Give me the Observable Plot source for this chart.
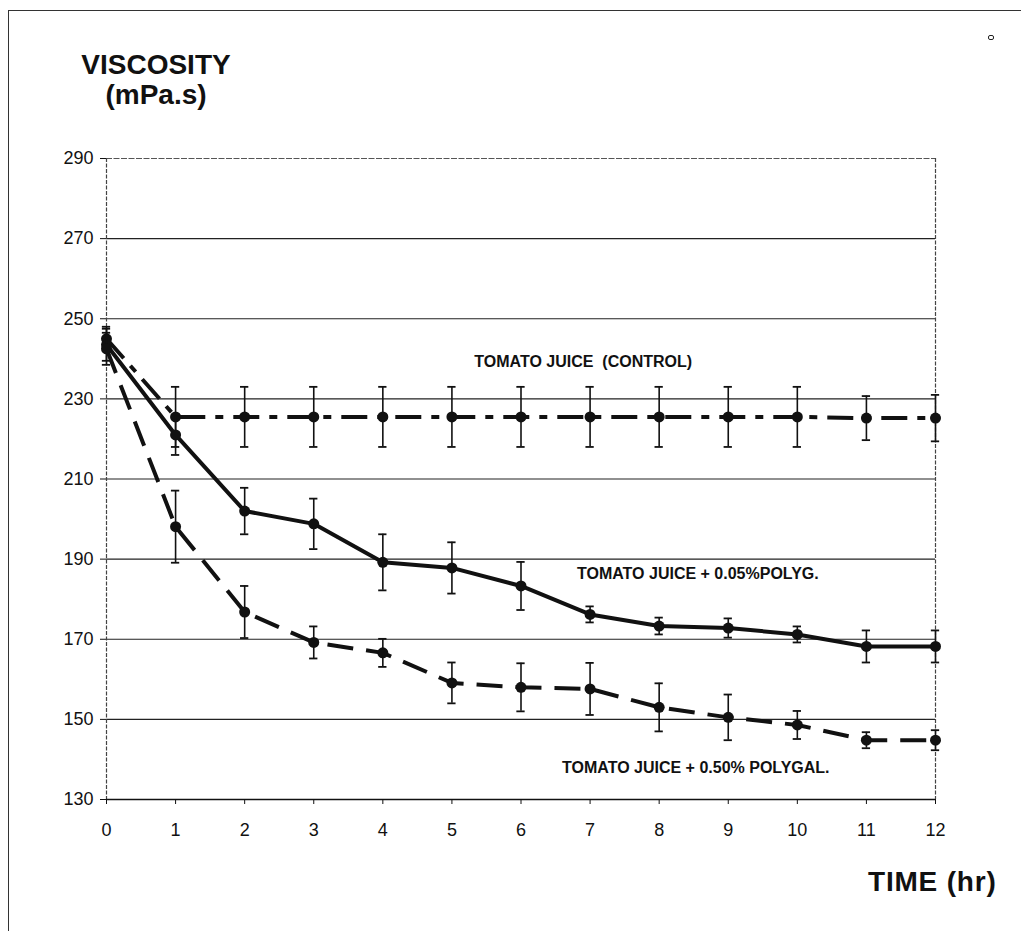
<!DOCTYPE html>
<html>
<head>
<meta charset="utf-8">
<script src="https://cdn.jsdelivr.net/npm/d3@7"></script>
<script src="https://cdn.jsdelivr.net/npm/@observablehq/plot@0.6"></script>
<style>
  html, body { margin: 0; padding: 0; background: #fff; }
  body { width: 1021px; height: 931px; position: relative; overflow: hidden;
         font-family: "Liberation Sans", Arial, Helvetica, sans-serif; }
  #frame { position: absolute; left: 8px; top: 10px; right: -4px; bottom: -4px;
           border-top: 1.5px solid #333; border-left: 1.5px solid #333; }
  #chart { position: absolute; left: 0; top: 0; }
  .axis-title { position: absolute; font-weight: bold; font-size: 28px; line-height: 28px;
                color: #111; white-space: nowrap; }
  #ytitle1, #ytitle2 { left: 56px; width: 200px; text-align: center; }
  #ytitle1 { top: 51px; }
  #ytitle2 { top: 81px; }
  #xtitle { left: 868px; top: 868px; letter-spacing: 0.8px; }
  #speck { position: absolute; left: 988px; top: 35px; width: 4px; height: 3px;
           border: 1px solid #222; border-radius: 2px; }
</style>
</head>
<body>
<div id="frame"></div>
<div id="chart"></div>
<div class="axis-title" id="ytitle1">VISCOSITY</div>
<div class="axis-title" id="ytitle2">(mPa.s)</div>
<div class="axis-title" id="xtitle">TIME (hr)</div>
<div id="speck"></div>
<script>
// Sampling times (hours)
const hours = [0, 1, 2, 3, 4, 5, 6, 7, 8, 9, 10, 11, 12];

// Viscosity (mPa.s) and error half-widths for each treatment
const controlMean = [245, 225.5, 225.5, 225.5, 225.5, 225.5, 225.5, 225.5, 225.5, 225.5, 225.5, 225.2, 225.2];
const controlErr  = [3, 7.5, 7.5, 7.5, 7.5, 7.5, 7.5, 7.5, 7.5, 7.5, 7.5, 5.5, 5.8];

const polyg005Mean = [243.5, 221, 202, 198.8, 189.2, 187.8, 183.3, 176.2, 173.3, 172.8, 171.2, 168.2, 168.2];
const polyg005Err  = [4, 5, 5.8, 6.3, 7, 6.4, 6, 2, 2.1, 2.4, 2, 4, 4];

const polyg050Mean = [242.5, 198.1, 176.8, 169.2, 166.6, 159.1, 158, 157.6, 153, 150.5, 148.6, 144.8, 144.8];
const polyg050Err  = [4, 9, 6.5, 4, 3.5, 5.1, 6, 6.5, 6, 5.7, 3.5, 2, 2.5];

// Axis ticks
const xTicks = hours;
const yTicks = [130, 150, 170, 190, 210, 230, 250, 270, 290];
const gridTicks = [150, 170, 190, 210, 230, 250, 270];

// Series labels, placed in data coordinates
const labelText = ["TOMATO JUICE\u00A0 (CONTROL)", "TOMATO JUICE + 0.05%POLYG.", "TOMATO JUICE + 0.50% POLYGAL."];
const labelX = [6.9, 8.56, 8.53];
const labelY = [239.3, 186.3, 138];

const toRows = (means, errs) => hours.map((t, i) => ({t, v: means[i], lo: means[i] - errs[i], hi: means[i] + errs[i]}));
const control = toRows(controlMean, controlErr);
const low = toRows(polyg005Mean, polyg005Err);
const high = toRows(polyg050Mean, polyg050Err);
const labels = labelText.map((text, i) => ({text, x: labelX[i], y: labelY[i]}));

const capHalf = 0.06; // half-width of error-bar caps, in hours

function errorBars(rows) {
  return [
    Plot.ruleX(rows, {x: "t", y1: "lo", y2: "hi", stroke: "#111", strokeWidth: 1.6}),
    Plot.ruleY(rows, {y: "hi", x1: d => d.t - capHalf, x2: d => d.t + capHalf, stroke: "#111", strokeWidth: 1.8}),
    Plot.ruleY(rows, {y: "lo", x1: d => d.t - capHalf, x2: d => d.t + capHalf, stroke: "#111", strokeWidth: 1.8})
  ];
}

function series(rows, dash) {
  return [
    ...errorBars(rows),
    Plot.line(rows, {x: "t", y: "v", stroke: "#111", strokeWidth: 4, strokeDasharray: dash, strokeLinecap: "butt"}),
    Plot.dot(rows, {x: "t", y: "v", r: 5.5, fill: "#111", stroke: "none"})
  ];
}

const chart = Plot.plot({
  width: 1021,
  height: 931,
  marginLeft: 106,
  marginRight: 86,
  marginTop: 158,
  marginBottom: 132,
  style: {fontFamily: "'Liberation Sans', Arial, Helvetica, sans-serif", fontSize: "18px", color: "#111", background: "transparent"},
  x: {domain: [0, 12]},
  y: {domain: [130, 290]},
  marks: [
    // horizontal grid
    Plot.ruleY(gridTicks, {stroke: "#222", strokeWidth: 1.2}),
    Plot.ruleY([290], {stroke: "#555", strokeWidth: 1, strokeDasharray: "6,1.5"}),
    // plot-area sides
    Plot.ruleX([0, 12], {stroke: "#444", strokeWidth: 1.2, strokeDasharray: "4,1.5"}),
    Plot.ruleY([130], {stroke: "#111", strokeWidth: 1.6}),
    Plot.axisY({ticks: yTicks, tickSize: 6, tickPadding: 7, label: null, fontSize: 18}),
    Plot.axisX({ticks: xTicks, tickSize: 5, tickPadding: 19, label: null, fontSize: 18, tickFormat: d => String(d)}),
    ...series(control, "26,10,8,10"),
    ...series(low, null),
    ...series(high, "26,13"),
    Plot.text(labels, {x: "x", y: "y", text: "text", fontSize: 16, fontWeight: "bold", fill: "#111"})
  ]
});
document.getElementById("chart").appendChild(chart);
</script>
</body>
</html>
